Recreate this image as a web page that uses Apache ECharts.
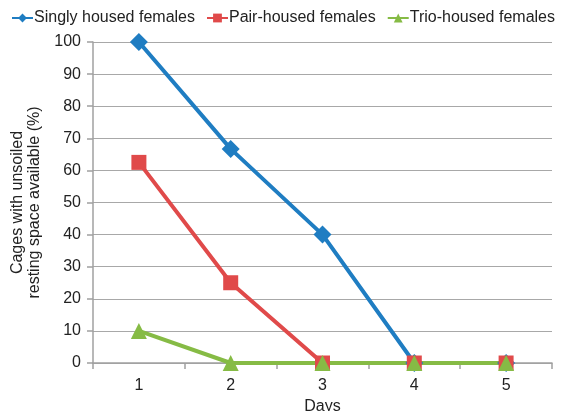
<!DOCTYPE html>
<html><head><meta charset="utf-8">
<script src="https://cdn.jsdelivr.net/npm/echarts@6/dist/echarts.min.js"></script>
<style>html,body{margin:0;padding:0;background:#fff}#c{width:571px;height:411px}</style>
</head><body><div id="c"></div>
<script>
const categories = ['1','2','3','4','5'];
const singly = [100, 66.7, 40, 0, 0];
const pair = [62.5, 25, 0, 0, 0];
const trio = [10, 0, 0, 0, 0];
const seriesNames = ['Singly housed females','Pair-housed females','Trio-housed females'];
const colors = ['#1f7dc2','#e04a4a','#86bb45'];
const font = 'Liberation Sans, Arial, sans-serif';
const chart = echarts.init(document.getElementById('c'));
chart.setOption({
  animation:false,
  textStyle:{fontFamily:font},
  color: colors,
  legend:{top:10,left:11,width:560,padding:0,itemWidth:21,itemHeight:11,itemGap:11,
    textStyle:{fontSize:16,color:'#222',fontFamily:font,padding:[0,0,0,-4]},
    data:seriesNames},
  grid:{left:93,right:19,top:42,bottom:48,containLabel:false,outerBoundsMode:'none'},
  xAxis:{type:'category',data:categories,boundaryGap:true,
    name:'Days',nameLocation:'middle',nameGap:35,
    nameTextStyle:{fontSize:16,color:'#222'},
    axisLine:{lineStyle:{color:'#a0a0a0',width:1.5}},
    axisTick:{show:true,length:6,lineStyle:{color:'#a0a0a0',width:1.5}},
    axisLabel:{fontSize:16,color:'#222',margin:15}},
  yAxis:{type:'value',min:0,max:100,interval:10,
    name:'Cages with unsoiled\nresting space available (%)',nameLocation:'middle',nameGap:45,
    nameTextStyle:{fontSize:16,color:'#222',lineHeight:17},
    axisLine:{show:true,lineStyle:{color:'#a0a0a0',width:1.5}},
    axisTick:{show:true,length:6,lineStyle:{color:'#a0a0a0',width:1.5}},
    splitLine:{lineStyle:{color:'#a8a8a8',width:1.2}},
    axisLabel:{fontSize:16,color:'#222',margin:12}},
  series:[
    {name:seriesNames[0],type:'line',data:singly,symbol:'diamond',symbolSize:18,
     lineStyle:{width:4,color:colors[0]},itemStyle:{color:colors[0]}},
    {name:seriesNames[1],type:'line',data:pair,symbol:'rect',symbolSize:15,
     lineStyle:{width:4,color:colors[1]},itemStyle:{color:colors[1]}},
    {name:seriesNames[2],type:'line',data:trio,symbol:'triangle',symbolSize:16,
     lineStyle:{width:4,color:colors[2]},itemStyle:{color:colors[2]}}
  ]
});
</script></body></html>
